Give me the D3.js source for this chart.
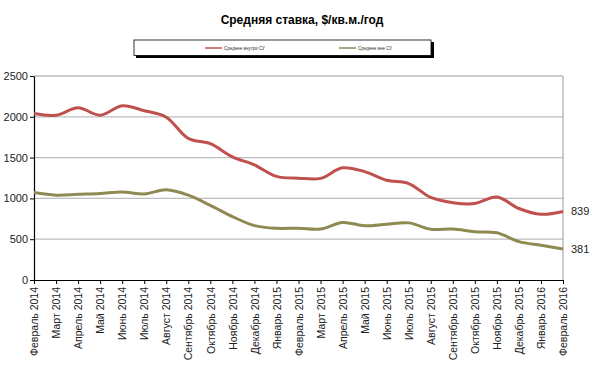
<!DOCTYPE html>
<html>
<head>
<meta charset="utf-8">
<script src="https://cdn.jsdelivr.net/npm/d3@7"></script>
<style>
  body { margin: 0; background: #fff; }
  svg { font-family: "Liberation Sans", Arial, sans-serif; }
</style>
</head>
<body>
<svg id="chart"></svg>
<script>
const months = ["Февраль 2014", "Март 2014", "Апрель 2014", "Май 2014", "Июнь 2014", "Июль 2014",
    "Август 2014", "Сентябрь 2014", "Октябрь 2014", "Ноябрь 2014", "Декабрь 2014", "Январь 2015",
    "Февраль 2015", "Март 2015", "Апрель 2015", "Май 2015", "Июнь 2015", "Июль 2015",
    "Август 2015", "Сентябрь 2015", "Октябрь 2015", "Ноябрь 2015", "Декабрь 2015", "Январь 2016",
    "Февраль 2016"];

const inside = [2040, 2020, 2110, 2020, 2135, 2075, 1995, 1735, 1670, 1510, 1410, 1270,
    1248, 1245, 1375, 1328, 1222, 1182, 1012, 948, 937, 1018, 876, 805, 839];
const outside = [1072, 1040, 1050, 1060, 1078, 1054, 1105, 1040, 915, 778, 666, 633,
    635, 625, 705, 665, 684, 700, 622, 624, 592, 578, 470, 425, 381];

const seriesNames = ["Среднее внутри СУ", "Среднее вне СУ"];
const yTicks = [0, 500, 1000, 1500, 2000, 2500];

const width = 599, height = 368;
const margin = { top: 76, right: 36, bottom: 88, left: 34 };
const colors = ["#c0504d", "#8f8a52"];

const svg = d3.select("#chart")
    .attr("width", width)
    .attr("height", height);

const x = d3.scalePoint()
    .domain(months)
    .range([margin.left, width - margin.right]);

const y = d3.scaleLinear()
    .domain([0, 2500])
    .range([height - margin.bottom, margin.top]);

// title
svg.append("text")
    .attr("x", 302)
    .attr("y", 24)
    .attr("text-anchor", "middle")
    .attr("font-size", "12px")
    .attr("font-weight", "bold")
    .text("Средняя ставка, $/кв.м./год");

// legend box with shadow
const legend = svg.append("g");
legend.append("rect")
    .attr("x", 136).attr("y", 42)
    .attr("width", 298).attr("height", 16)
    .attr("fill", "#000");
legend.append("rect")
    .attr("x", 134).attr("y", 40)
    .attr("width", 297).attr("height", 15.5)
    .attr("fill", "#fff")
    .attr("stroke", "#000")
    .attr("stroke-width", 0.8);

const legendPos = [205, 339];
seriesNames.forEach((name, i) => {
    legend.append("line")
        .attr("x1", legendPos[i]).attr("x2", legendPos[i] + 17)
        .attr("y1", 48).attr("y2", 48)
        .attr("stroke", colors[i])
        .attr("stroke-width", 1.5);
    legend.append("text")
        .attr("x", legendPos[i] + 19)
        .attr("y", 49.5)
        .attr("font-size", "4.5px")
        .attr("fill", "#333")
        .text(name);
});

// gridlines
svg.append("g")
    .selectAll("line")
    .data(yTicks.filter(d => d > 0))
    .enter().append("line")
    .attr("x1", margin.left)
    .attr("x2", width - margin.right)
    .attr("y1", d => y(d))
    .attr("y2", d => y(d))
    .attr("stroke", "#bdbdbd")
    .attr("stroke-width", 1.3);

// right border of plot area
svg.append("line")
    .attr("x1", width - margin.right).attr("x2", width - margin.right)
    .attr("y1", margin.top).attr("y2", height - margin.bottom)
    .attr("stroke", "#999")
    .attr("stroke-width", 1);

// y axis
const yAxis = svg.append("g")
    .attr("transform", `translate(${margin.left},0)`)
    .call(d3.axisLeft(y).tickValues(yTicks).tickFormat(d3.format("d")).tickSize(4).tickSizeOuter(0));
yAxis.select(".domain").attr("stroke", "#000").attr("stroke-width", 1.2);
yAxis.selectAll("text")
    .attr("font-size", "11px")
    .attr("fill", "#222")
    .attr("font-family", "Liberation Sans, Arial, sans-serif")
    .attr("x", -6);

// x axis
const xAxis = svg.append("g")
    .attr("transform", `translate(0,${height - margin.bottom})`)
    .call(d3.axisBottom(x).tickSize(4).tickSizeOuter(0));
xAxis.select(".domain").attr("stroke", "#000").attr("stroke-width", 1.2);
xAxis.selectAll("text")
    .attr("font-size", "10.5px")
    .attr("fill", "#222")
    .attr("font-family", "Liberation Sans, Arial, sans-serif")
    .attr("transform", "rotate(-90)")
    .attr("text-anchor", "end")
    .attr("x", -7)
    .attr("y", 0)
    .attr("dy", "0.35em");

// lines
const line = d3.line()
    .x((d, i) => x(months[i]))
    .y(d => y(d))
    .curve(d3.curveCatmullRom.alpha(0.5));

[inside, outside].forEach((vals, i) => {
    svg.append("path")
        .datum(vals)
        .attr("fill", "none")
        .attr("stroke", colors[i])
        .attr("stroke-width", 3)
        .attr("d", line);

    svg.append("text")
        .attr("x", width - margin.right + 8)
        .attr("y", y(vals[vals.length - 1]))
        .attr("dy", "0.35em")
        .attr("font-size", "11px")
        .attr("fill", "#222")
        .text(vals[vals.length - 1]);
});
</script>
</body>
</html>
